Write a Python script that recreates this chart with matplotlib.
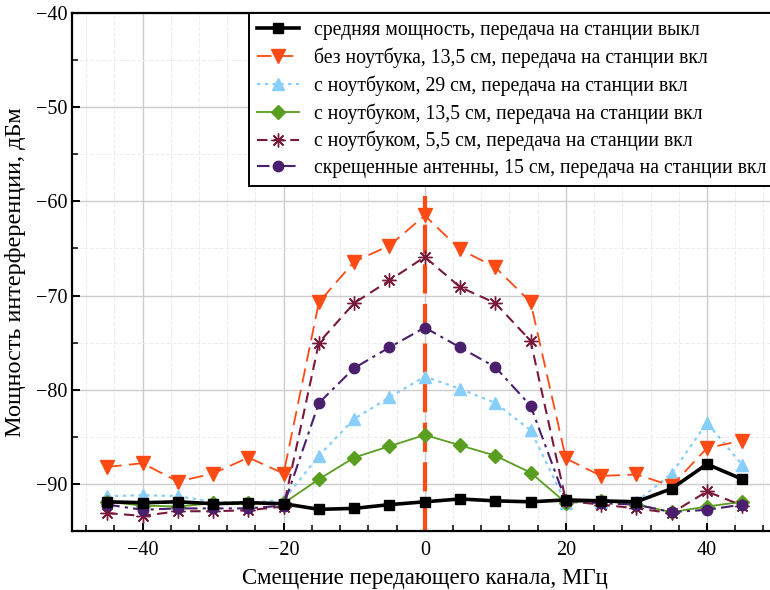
import matplotlib
matplotlib.use("Agg")
import matplotlib.pyplot as plt
from matplotlib.ticker import MultipleLocator

plt.rcParams['font.family'] = ['Liberation Serif', 'DejaVu Serif']
plt.rcParams['mathtext.fontset'] = 'stix'

offsets = [-45, -40, -35, -30, -25, -20, -15, -10, -5, 0, 5, 10, 15, 20, 25, 30, 35, 40, 45]

avg_off = [-91.9, -92.0, -91.9, -92.1, -92.0, -92.1, -92.7, -92.6, -92.2, -91.9,
           -91.6, -91.8, -91.9, -91.7, -91.8, -91.9, -90.5, -87.9, -89.5]
no_laptop = [-88.2, -87.8, -89.75, -88.9, -87.2, -88.9, -70.7, -66.4, -64.7, -61.5,
             -65.1, -67.0, -70.7, -87.3, -89.15, -89.0, -90.2, -86.2, -85.4]
laptop_29 = [-91.3, -91.2, -91.3, -91.9, -92.0, -91.7, -87.0, -83.1, -80.8, -78.6,
             -79.9, -81.4, -84.3, -92.0, -91.9, -91.9, -88.9, -83.5, -88.0]
laptop_135 = [-91.9, -92.3, -92.4, -92.05, -92.05, -92.05, -89.5, -87.2, -86.0, -84.8,
              -85.9, -87.0, -88.8, -92.0, -91.8, -92.2, -93.0, -92.4, -91.9]
laptop_55 = [-93.1, -93.4, -92.9, -92.9, -92.8, -92.4, -75.0, -70.8, -68.4, -65.9,
             -69.1, -70.8, -74.8, -91.8, -92.2, -92.6, -93.1, -90.8, -92.3]
crossed = [-92.2, -92.75, -92.6, -92.6, -92.6, -92.3, -81.4, -77.7, -75.5, -73.4,
           -75.5, -77.6, -81.7, -91.8, -92.05, -92.2, -93.0, -92.75, -92.2]

labels = [
    "средняя мощность, передача на станции выкл",
    "без ноутбука, 13,5 см, передача на станции вкл",
    "с ноутбуком, 29 см, передача на станции вкл",
    "с ноутбуком, 13,5 см, передача на станции вкл",
    "с ноутбуком, 5,5 см, передача на станции вкл",
    "скрещенные антенны, 15 см, передача на станции вкл",
]

center_line_x = [0, 0]
center_line_y = [-95, -59.4]

W, H = 770, 590
ax_left, ax_right, ax_bottom, ax_top = 72, 777.5, 531, 13

fig = plt.figure(figsize=(W / 100, H / 100), dpi=100)
ax = fig.add_axes([ax_left / W, 1 - ax_bottom / H, (ax_right - ax_left) / W, (ax_bottom - ax_top) / H])

ax.plot(center_line_x, center_line_y, color='#ff4a14', lw=3, dashes=(7, 2.5), zorder=1)

ax.plot(offsets, avg_off, color='black', lw=2.6, marker='s', ms=7.5, label=labels[0], zorder=5)
ax.plot(offsets, no_laptop, color='#ff4a14', lw=1.3, dashes=(8, 4), marker='v', ms=9.5, label=labels[1], zorder=4)
ax.plot(offsets, laptop_29, color='#87cefa', lw=1.6, dashes=(1.5, 2), marker='^', ms=8.5, label=labels[2], zorder=3)
ax.plot(offsets, laptop_135, color='#5a9e1f', lw=1.3, marker='D', ms=7, label=labels[3], zorder=3)
ax.plot(offsets, laptop_55, color='#7a1a3a', lw=1.5, dashes=(5, 3), marker=(8, 2, 0), ms=10, mew=1.0, label=labels[4], zorder=3)
ax.plot(offsets, crossed, color='#4a1f6e', lw=1.5, dashes=(6, 2.5, 1.5, 2.5), marker='o', ms=7.5, label=labels[5], zorder=3)

ax.set_xlim(-50, 50)
ax.set_ylim(-95, -40)
ax.xaxis.set_major_locator(MultipleLocator(20))
ax.xaxis.set_minor_locator(MultipleLocator(4))
ax.yaxis.set_major_locator(MultipleLocator(10))
ax.yaxis.set_minor_locator(MultipleLocator(5))
ax.grid(True, which='major', color='#cccccc', lw=1.0, zorder=0)
ax.grid(True, which='minor', color='#eeeeee', lw=0.8, ls='--', zorder=0)
ax.set_axisbelow(True)
ax.tick_params(which='both', direction='in', labelsize=14.5, top=False, right=False)
ax.tick_params(axis='x', which='major', pad=7)
ax.tick_params(which='major', length=6, width=1.4)
ax.tick_params(which='minor', length=4, width=1.1)
for sp in ax.spines.values():
    sp.set_linewidth(1.6)

ax.set_xlabel("Смещение передающего канала, МГц", fontsize=16.5, labelpad=6)
ax.set_ylabel("Мощность интерференции, дБм", fontsize=17.5, labelpad=7)

ax_w = ax_right - ax_left
leg_x0 = (249 - ax_left) / ax_w
leg_x1 = (795 - ax_left) / ax_w
leg = ax.legend(loc='upper left', bbox_to_anchor=(leg_x0, 0.0, leg_x1 - leg_x0, 1.0), mode='expand',
                fontsize=14.2, borderaxespad=0, fancybox=False, framealpha=1, edgecolor='black',
                handlelength=2.1, handletextpad=0.8, borderpad=0.42, labelspacing=0.37)
leg.get_frame().set_linewidth(1.4)

fig.savefig("out.png", dpi=100)
